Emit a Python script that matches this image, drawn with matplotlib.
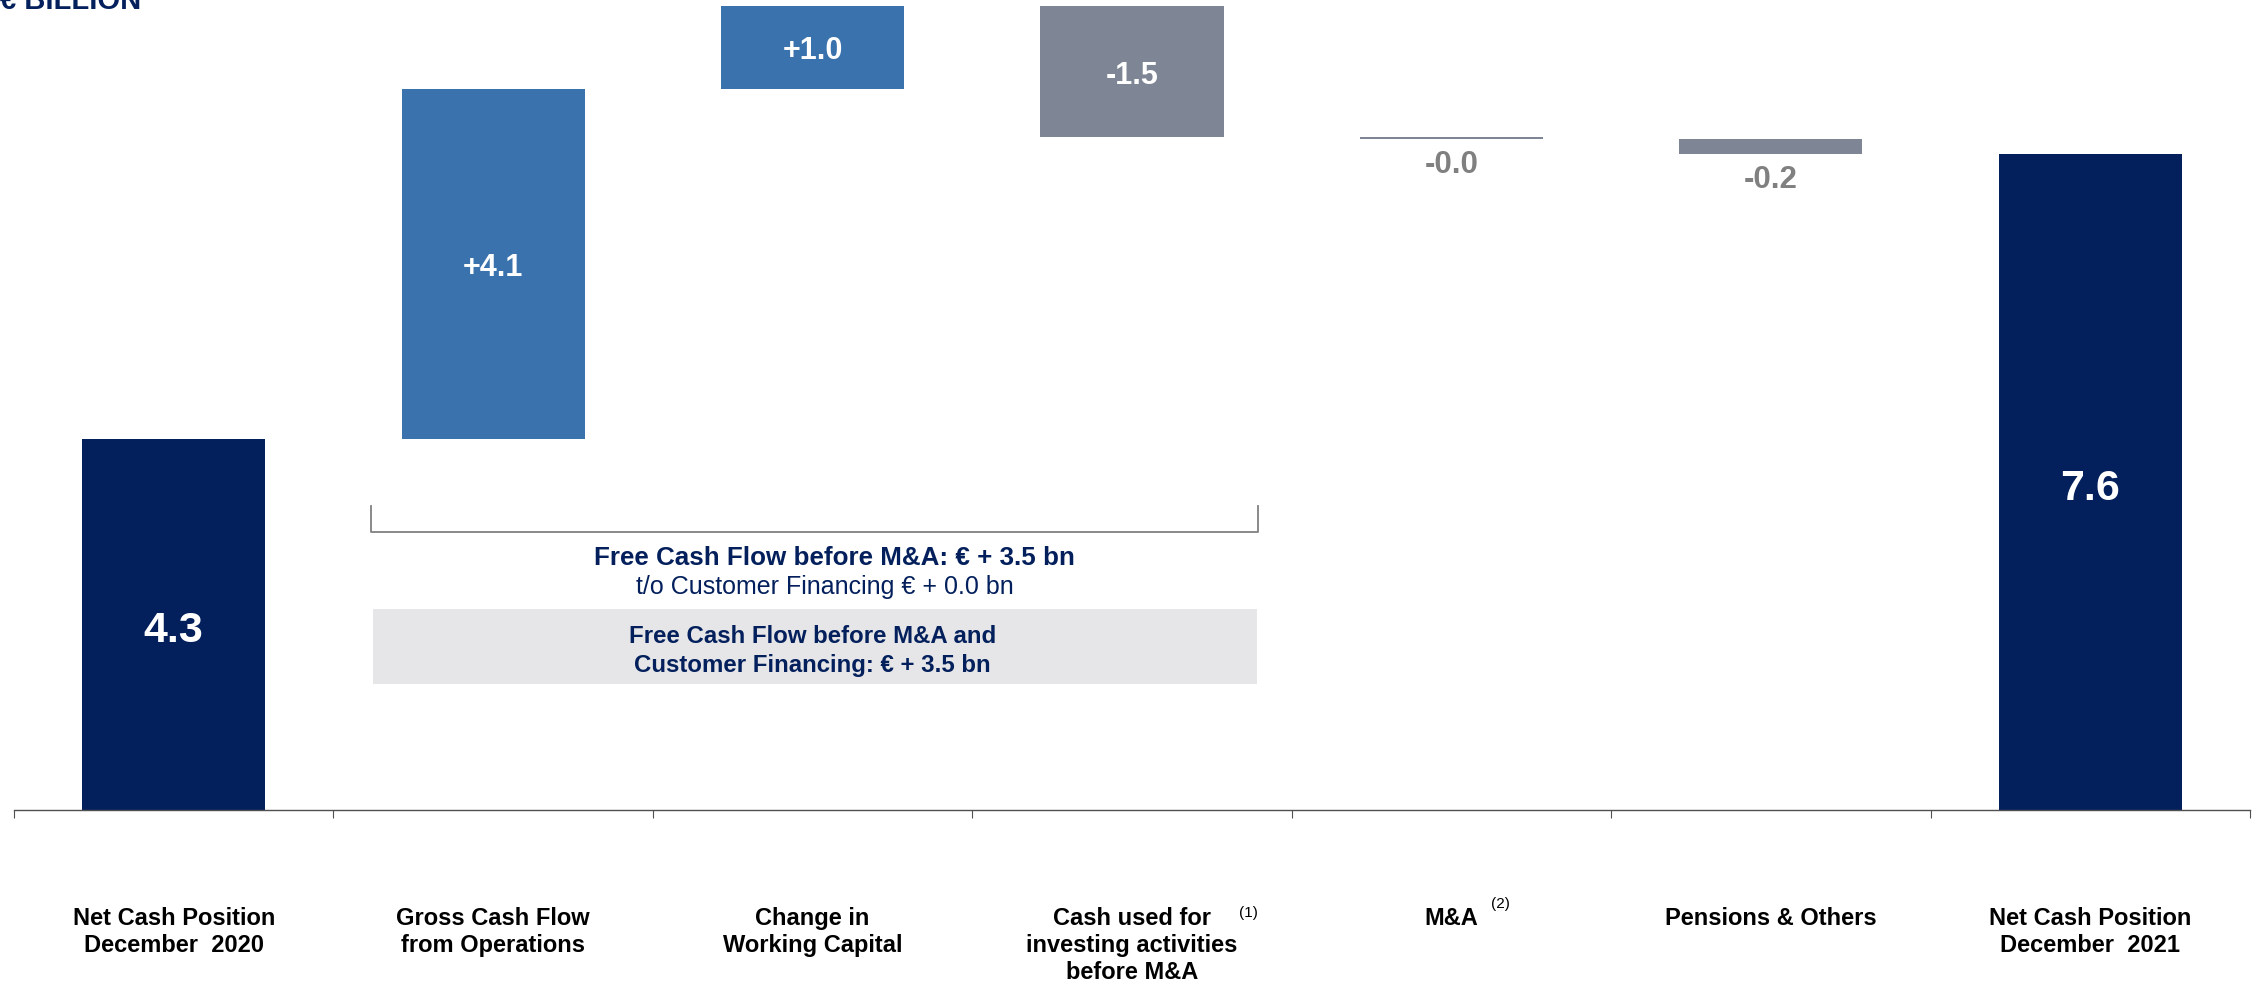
import numpy as np
import matplotlib
matplotlib.use("Agg")
import matplotlib.pyplot as plt
from matplotlib.patches import Rectangle

plt.rcParams['font.family'] = ['Liberation Sans', 'DejaVu Sans']

# ------------------ data ------------------
categories = [
    "Net Cash Position\nDecember  2020",
    "Gross Cash Flow\nfrom Operations",
    "Change in\nWorking Capital",
    "Cash used for\ninvesting activities\nbefore M&A",
    "M&A",
    "Pensions & Others",
    "Net Cash Position\nDecember  2021",
]
start_value = 4.3
changes = [4.06, 0.96, -1.52, -0.03, -0.17]
end_value = 7.6
value_labels = ["4.3", "+4.1", "+1.0", "-1.5", "-0.0", "-0.2", "7.6"]
footnotes = {3: "(1)", 4: "(2)"}

NAVY = "#03205C"
BLUE = "#3A72AD"
GREY = "#7E8695"
TXT_GREY = "#808080"
BOX = "#E6E6E8"

# waterfall geometry
running = start_value + np.concatenate([[0], np.cumsum(changes)])
bottoms = [0] + [min(running[i], running[i + 1]) for i in range(len(changes))] + [0]
heights = [start_value] + [abs(c) for c in changes] + [end_value]
colors = [NAVY] + [BLUE if c > 0 else GREY for c in changes] + [NAVY]
x = np.arange(len(categories))

# ------------------ figure ------------------
W, H = 2257, 985
fig = plt.figure(figsize=(W / 100, H / 100), dpi=100)
ax = fig.add_axes([14 / W, 0, (2250 - 14) / W, 1])

px_per_unit = 86.3
base_px = 810
ax.set_xlim(-0.5, 6.5)
ax.set_ylim((base_px - H) / px_per_unit, base_px / px_per_unit)

ax.bar(x, heights, bottom=bottoms, width=0.573, color=colors, zorder=2)

# value labels
for i, lab in enumerate(value_labels):
    mid = bottoms[i] + heights[i] / 2
    if i in (0, len(categories) - 1):
        ax.text(x[i], mid - 0.08, lab, ha="center", va="center", color="white",
                fontsize=31, fontweight="bold")
    elif i in (4, 5):
        ax.text(x[i], bottoms[i] - 0.3, lab, ha="center", va="center",
                color=TXT_GREY, fontsize=22.5, fontweight="bold")
    else:
        ax.text(x[i], mid - 0.05, lab, ha="center", va="center", color="white",
                fontsize=22, fontweight="bold")

# axis line + boundary ticks
for s in ["top", "right", "left"]:
    ax.spines[s].set_visible(False)
ax.spines["bottom"].set_position(("data", 0))
ax.spines["bottom"].set_color("#505050")
ax.spines["bottom"].set_linewidth(1.0)
ax.set_yticks([])
ax.set_xticks(x)
ax.tick_params(axis="x", which="major", length=0, labelbottom=False)
ax.set_xticks(np.arange(-0.5, 7, 1), minor=True)
ax.tick_params(axis="x", which="minor", length=6, width=0.8, color="#505050", direction="out")

# category labels, one line at a time at fixed baselines
tr = ax.get_xaxis_transform()
baselines = [925, 952, 979]
for i, cat in enumerate(categories):
    for j, line in enumerate(cat.split("\n")):
        ax.text(x[i], 1 - baselines[j] / H, line, transform=tr, ha="center",
                va="baseline", fontsize=17, fontweight="bold", color="black")
ax.text(3.366, 1 - 917 / H, footnotes[3], transform=tr, ha="center",
        va="baseline", fontsize=11, color="black")
ax.text(4.152, 1 - 908 / H, footnotes[4], transform=tr, ha="center",
        va="baseline", fontsize=11, color="black")

# free cash flow bracket and notes
def py(p):
    return (base_px - p) / px_per_unit

ax.plot([0.618, 0.618, 3.394, 3.394], [py(506), py(532), py(532), py(506)],
        color=TXT_GREY, lw=1.3, zorder=3)
ax.text(2.07, py(565), "Free Cash Flow before M&A: € + 3.5 bn", ha="center",
        va="baseline", fontsize=18.7, fontweight="bold", color=NAVY)
ax.text(2.04, py(594), "t/o Customer Financing € + 0.0 bn", ha="center",
        va="baseline", fontsize=18, color=NAVY)
ax.add_patch(Rectangle((0.624, py(684)), 3.391 - 0.624, py(609) - py(684),
                       facecolor=BOX, edgecolor="none", zorder=1))
ax.text(2.0, py(643), "Free Cash Flow before M&A and", ha="center",
        va="baseline", fontsize=17.3, fontweight="bold", color=NAVY)
ax.text(2.0, py(672), "Customer Financing: € + 3.5 bn", ha="center",
        va="baseline", fontsize=17.3, fontweight="bold", color=NAVY)

# unit title, partly cut at the top edge like the original
fig.text(0.0, 1 - 9 / H, "€ BILLION", ha="left", va="baseline",
         fontsize=21, fontweight="bold", color=NAVY)

fig.savefig("out.png", dpi=100)
